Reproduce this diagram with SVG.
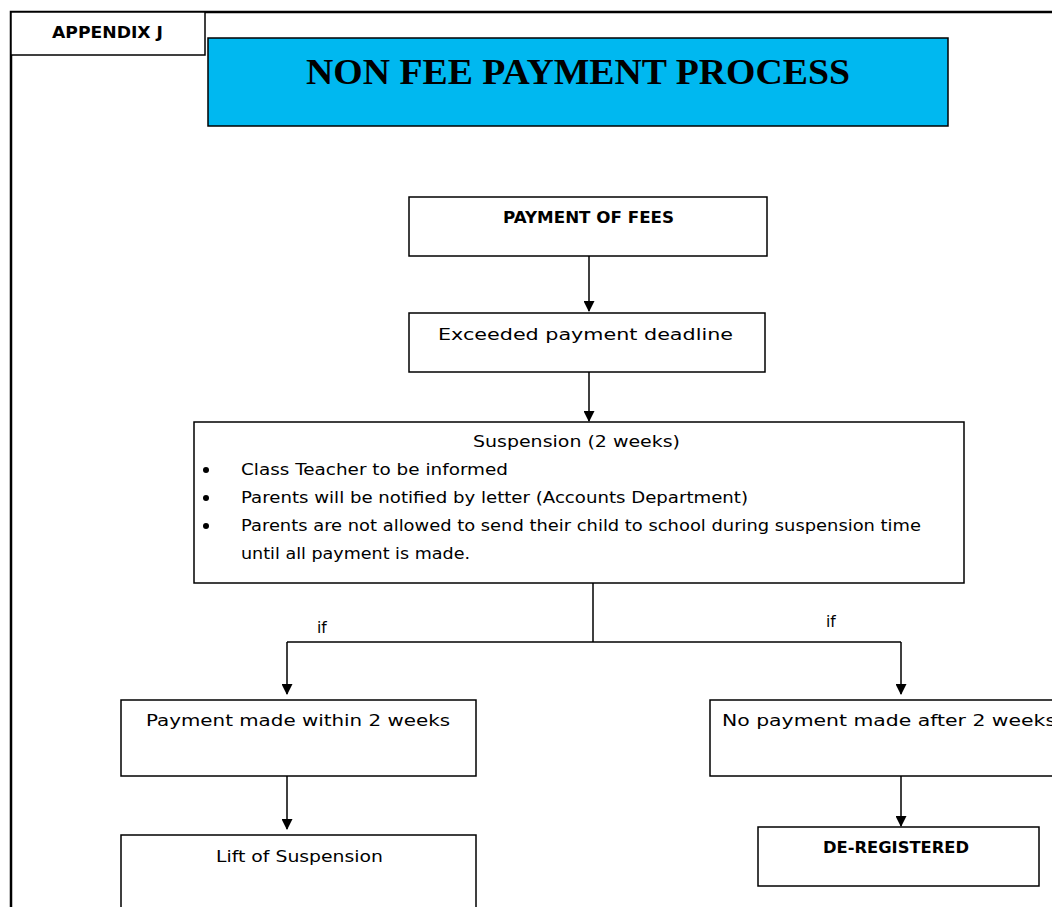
<svg xmlns="http://www.w3.org/2000/svg" width="1052" height="907" viewBox="0 0 1052 907">
  <style>
    .box { fill: #ffffff; stroke: #000000; stroke-width: 1.5; }
    .frame { fill: none; stroke: #000000; stroke-width: 2.5; }
    .txt { font-family: "DejaVu Sans", "Liberation Sans", sans-serif; font-size: 15.5px; fill: #000000; }
    .bold { font-family: "DejaVu Sans", "Liberation Sans", sans-serif; font-size: 15px; font-weight: bold; fill: #000000; }
    .title { font-family: "Liberation Serif", "Times New Roman", serif; font-size: 35px; font-weight: bold; fill: #000000; }
    .conn { fill: none; stroke: #000000; stroke-width: 1.5; }
  </style>
  <defs>
    <marker id="arrow" markerWidth="11" markerHeight="11" refX="10" refY="5.5" orient="auto" markerUnits="userSpaceOnUse">
      <path d="M0,0 L11,5.5 L0,11 Z" fill="#000000"/>
    </marker>
  </defs>

  <rect width="1052" height="907" fill="#ffffff"/>

  <!-- page frame -->
  <path class="frame" d="M11,907 L11,12 L1052,12"/>

  <g id="appendix">
    <rect class="box" x="11" y="12" width="194" height="43"/>
    <text class="bold" x="52" y="38" textLength="111" lengthAdjust="spacingAndGlyphs">APPENDIX J</text>
  </g>

  <g id="title">
    <rect x="208" y="38" width="740" height="88" fill="#00B8F0" stroke="#000000" stroke-width="1.5"/>
    <text class="title" x="306" y="84" textLength="544" lengthAdjust="spacingAndGlyphs">NON FEE PAYMENT PROCESS</text>
  </g>

  <g id="payment-of-fees">
    <rect class="box" x="409" y="197" width="358" height="59"/>
    <text class="bold" x="503" y="223" textLength="171" lengthAdjust="spacingAndGlyphs">PAYMENT OF FEES</text>
  </g>

  <g id="exceeded-deadline">
    <rect class="box" x="409" y="313" width="356" height="59"/>
    <text class="txt" x="438" y="340" textLength="295" lengthAdjust="spacingAndGlyphs">Exceeded payment deadline</text>
  </g>

  <g id="suspension">
    <rect class="box" x="194" y="422" width="770" height="161"/>
    <text class="txt" x="473" y="447" textLength="207" lengthAdjust="spacingAndGlyphs">Suspension (2 weeks)</text>
    <circle cx="206" cy="470" r="3"/>
    <text class="txt" x="241" y="475" textLength="267" lengthAdjust="spacingAndGlyphs">Class Teacher to be informed</text>
    <circle cx="206" cy="498" r="3"/>
    <text class="txt" x="241" y="503" textLength="507" lengthAdjust="spacingAndGlyphs">Parents will be notified by letter  (Accounts Department)</text>
    <circle cx="206" cy="526" r="3"/>
    <text class="txt" x="241" y="531" textLength="680" lengthAdjust="spacingAndGlyphs">Parents are not allowed to send their child to school during suspension time</text>
    <text class="txt" x="241" y="559" textLength="229" lengthAdjust="spacingAndGlyphs">until all payment is made.</text>
  </g>

  <g id="payment-within">
    <rect class="box" x="121" y="700" width="355" height="76"/>
    <text class="txt" x="146" y="726" textLength="304" lengthAdjust="spacingAndGlyphs">Payment made within 2 weeks</text>
  </g>

  <g id="lift-suspension">
    <rect class="box" x="121" y="835" width="355" height="80"/>
    <text class="txt" x="216" y="862" textLength="167" lengthAdjust="spacingAndGlyphs">Lift of Suspension</text>
  </g>

  <g id="no-payment">
    <rect class="box" x="710" y="700" width="360" height="76"/>
    <text class="txt" x="722" y="726" textLength="334" lengthAdjust="spacingAndGlyphs">No payment made after 2 weeks</text>
  </g>

  <g id="de-registered">
    <rect class="box" x="758" y="827" width="281" height="59"/>
    <text class="bold" x="823" y="853" textLength="146" lengthAdjust="spacingAndGlyphs">DE-REGISTERED</text>
  </g>

  <g id="connectors">
    <line class="conn" x1="589" y1="256" x2="589" y2="311" marker-end="url(#arrow)"/>
    <line class="conn" x1="589" y1="372" x2="589" y2="421" marker-end="url(#arrow)"/>
    <path class="conn" d="M593,583 L593,642"/>
    <path class="conn" d="M287,642 L901,642"/>
    <line class="conn" x1="287" y1="642" x2="287" y2="694" marker-end="url(#arrow)"/>
    <line class="conn" x1="901" y1="642" x2="901" y2="694" marker-end="url(#arrow)"/>
    <line class="conn" x1="287" y1="776" x2="287" y2="829" marker-end="url(#arrow)"/>
    <line class="conn" x1="901" y1="776" x2="901" y2="826" marker-end="url(#arrow)"/>
    <text class="txt" x="317" y="633">if</text>
    <text class="txt" x="826" y="627">if</text>
  </g>
</svg>
